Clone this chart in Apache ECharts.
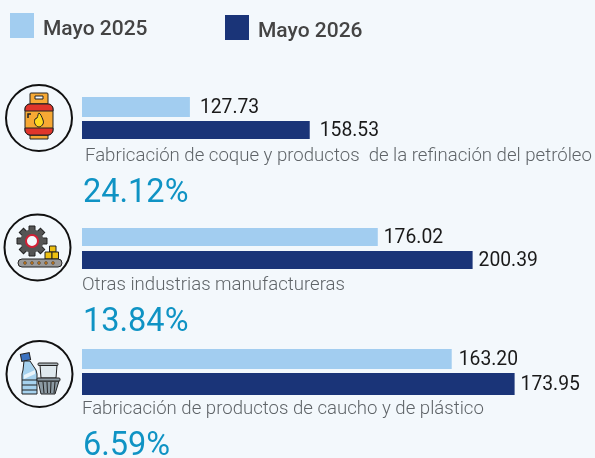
<!DOCTYPE html>
<html>
<head>
<meta charset="utf-8">
<script src="https://cdn.jsdelivr.net/npm/echarts@6/dist/echarts.min.js"></script>
<style>
html, body { margin: 0; padding: 0; background: #f3f8fc; }
#chart { width: 595px; height: 458px; }
</style>
</head>
<body>
<div id="chart"></div>
<script>
// 数据
const years = ['Mayo 2025', 'Mayo 2026'];
const values2025 = [127.73, 176.02, 163.20];
const values2026 = [158.53, 200.39, 173.95];
const sectors = [
    'Fabricación de coque y productos  de la refinación del petróleo',
    'Otras industrias manufactureras',
    'Fabricación de productos de caucho y de plástico'
];
const changes = ['24.12%', '13.84%', '6.59%'];

const colorLight = '#a2cdf0';
const colorDark = '#1a3478';
const font = 'Roboto';

// 每组柱子的位置（原图每组比例尺不同）
const groups = [
    {top: 97, height: 42, width: 428, max: 210, gap: '20%', w1: 20, w2: 18, d1: 10, d2: 10, textX: 85, nameY: 156, pctY: 194},
    {top: 228, height: 41, width: 428, max: 210, gap: '28%', w1: 18, w2: 18, d1: 6, d2: 6, textX: 82, nameY: 285, pctY: 323},
    {top: 349, height: 46, width: 468, max: 180, gap: '20%', w1: 20, w2: 22, d1: 7, d2: 6, textX: 82, nameY: 409, pctY: 447}
];

const grid = [], xAxis = [], yAxis = [], series = [], texts = [];

groups.forEach((g, i) => {
    grid.push({left: 82, top: g.top, width: g.width, height: g.height});
    xAxis.push({gridIndex: i, type: 'value', min: 100, max: g.max, show: false});
    yAxis.push({gridIndex: i, type: 'category', data: [sectors[i]], inverse: true, show: false});

    const label = (distance) => ({
        show: true,
        position: 'right',
        distance: distance,
        offset: [0, 1],
        formatter: (p) => p.value.toFixed(2),
        fontFamily: font,
        fontSize: 19.3,
        color: '#1a1a1a'
    });
    series.push({
        name: years[0], type: 'bar', xAxisIndex: i, yAxisIndex: i,
        data: [values2025[i]], barWidth: g.w1, barGap: g.gap,
        itemStyle: {color: colorLight}, label: label(g.d1)
    });
    series.push({
        name: years[1], type: 'bar', xAxisIndex: i, yAxisIndex: i,
        data: [values2026[i]], barWidth: g.w2, barGap: g.gap,
        itemStyle: {color: colorDark}, label: label(g.d2)
    });

    texts.push({
        type: 'text', x: g.textX, y: g.nameY,
        style: {text: sectors[i], font: '300 18.6px ' + font, fill: '#5f6468', textVerticalAlign: 'middle'}
    });
    texts.push({
        type: 'text', x: 83, y: g.pctY,
        style: {text: changes[i], font: '400 32.5px ' + font, fill: '#0f93c4', textVerticalAlign: 'middle'}
    });
});

// 圆形图标外框
function ring(cx, cy) {
    return {type: 'circle', shape: {cx: cx, cy: cy, r: 33}, style: {fill: '#f3f8fc', stroke: '#111', lineWidth: 2}};
}
function box(x, y, w, h, fill, r) {
    return {type: 'rect', shape: {x: x, y: y, width: w, height: h, r: r || 0}, style: {fill: fill, stroke: '#222', lineWidth: 1}};
}
function stroke(x1, y1, x2, y2, color) {
    return {type: 'line', shape: {x1: x1, y1: y1, x2: x2, y2: y2}, style: {stroke: color || '#222', lineWidth: 1}};
}

// 气罐
const gasIcon = [
    ring(39, 118),
    box(30, 93, 18, 11, '#f7a934', 1),
    box(35, 96, 8, 3, '#f3f8fc'),
    box(30, 135, 18, 4, '#f7a934'),
    box(25, 104, 28, 31, '#f7a934', 5),
    {type: 'rect', shape: {x: 25, y: 104, width: 28, height: 7, r: [5, 5, 0, 0]}, style: {fill: '#e0352b', stroke: '#222', lineWidth: 1}},
    {type: 'rect', shape: {x: 25, y: 128, width: 28, height: 7, r: [0, 0, 5, 5]}, style: {fill: '#e0352b', stroke: '#222', lineWidth: 1}},
    {type: 'polygon', shape: {points: [[39, 113], [43, 120], [43, 124], [39, 127], [35, 124], [35, 119], [37, 118]], smooth: 0.4}, style: {fill: '#ffd81f', stroke: '#222', lineWidth: 1}},
    {type: 'polyline', shape: {points: [[28, 118], [28, 114], [31, 114]]}, style: {stroke: '#222', fill: 'none', lineWidth: 1.5}}
];

// 齿轮和传送带
const gearTeeth = [0, 45, 90, 135].map(a => ({
    type: 'rect',
    x: 32, y: 241,
    rotation: a * Math.PI / 180,
    shape: {x: -3, y: -15, width: 6, height: 30},
    style: {fill: '#555', stroke: '#222', lineWidth: 1}
}));
const gearIcon = [
    ring(37.5, 247.5),
    ...gearTeeth,
    {type: 'circle', shape: {cx: 32, cy: 241, r: 11.5}, style: {fill: '#555'}},
    {type: 'circle', shape: {cx: 32, cy: 241, r: 6}, style: {fill: '#f3f8fc', stroke: '#d31f35', lineWidth: 2}},
    box(49.5, 246, 6.5, 6, '#eec010'),
    box(45, 252, 7, 7, '#eec010'),
    box(52, 252, 6.5, 7, '#eec010'),
    box(18, 259, 44, 8, '#9a9a9a', 4),
    ...[25, 32, 39, 46, 53].map(x => ({type: 'circle', shape: {cx: x, cy: 263, r: 1.4}, style: {fill: '#d9841a', stroke: '#222', lineWidth: 0.5}}))
];

// 塑料瓶和餐盒
const plasticIcon = [
    ring(39.5, 374),
    {type: 'rect', x: 25.5, y: 357, rotation: 0.2, shape: {x: -4.5, y: -3.5, width: 9, height: 7}, style: {fill: '#3b72c0', stroke: '#222', lineWidth: 1}},
    {type: 'polygon', shape: {points: [[24, 361], [30, 361], [36, 370], [37, 374], [37, 394], [22, 394], [22, 374], [23, 370]]}, style: {fill: '#a6d2ee', stroke: '#222', lineWidth: 1}},
    {type: 'polygon', shape: {points: [[24, 375], [35, 370], [35, 374], [24, 379]]}, style: {fill: '#e9f4fa'}},
    stroke(22, 380, 37, 380), stroke(22, 385, 37, 385), stroke(22, 390, 37, 390),
    {type: 'polygon', shape: {points: [[40, 365], [57, 365], [56, 378], [41, 378]]}, style: {fill: '#dfe9ee', stroke: '#222', lineWidth: 1}},
    box(38, 363, 20, 2.5, '#aab4b8', 1),
    {type: 'polygon', shape: {points: [[38, 381], [59, 381], [55, 394], [41, 394]]}, style: {fill: '#8c9aa3', stroke: '#222', lineWidth: 1}},
    stroke(43, 382, 44, 393), stroke(47, 382, 47.5, 393), stroke(51, 382, 50.5, 393), stroke(55, 382, 54, 393),
    box(37, 378, 23, 3, '#8c9aa3', 1)
];

const legendText = {
    formatter: '{t|{name}}',
    textStyle: {
        rich: {t: {fontFamily: font, fontSize: 21, fontWeight: 500, color: '#444', padding: [8, 0, 0, 4]}}
    }
};

const option = {
    backgroundColor: '#f3f8fc',
    animation: false,
    legend: [
        {data: [years[0]], left: 10, top: 13, padding: 0, itemWidth: 24, itemHeight: 25, icon: 'rect', ...legendText},
        {data: [years[1]], left: 225, top: 15, padding: 0, itemWidth: 24, itemHeight: 25, icon: 'rect', ...legendText}
    ],
    grid: grid,
    xAxis: xAxis,
    yAxis: yAxis,
    series: series,
    graphic: {elements: [...texts, ...gasIcon, ...gearIcon, ...plasticIcon]}
};

const myChart = echarts.init(document.getElementById('chart'));
myChart.setOption(option);
</script>
</body>
</html>
